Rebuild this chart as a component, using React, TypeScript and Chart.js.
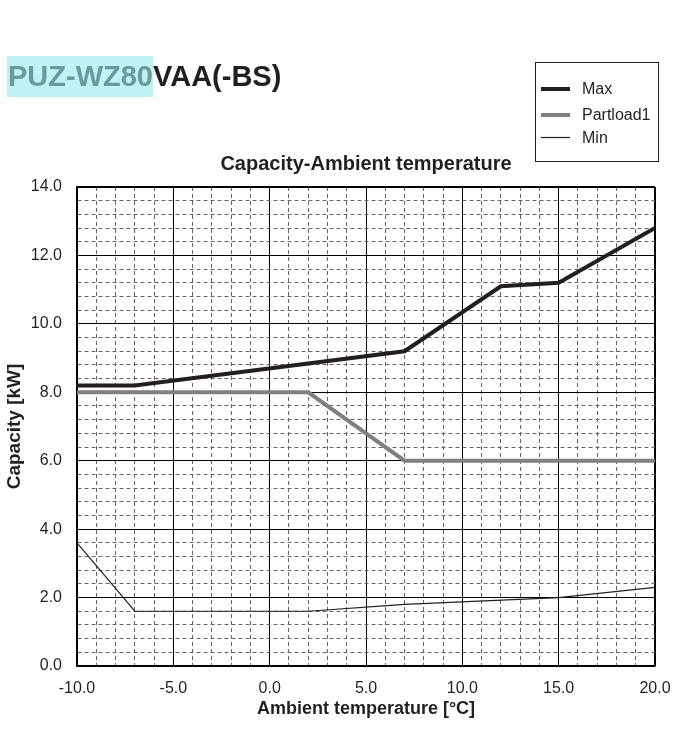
import React, { useEffect, useRef } from "react";
import { Chart, registerables } from "chart.js";

Chart.register(...registerables);

const FONT = "'Liberation Sans', Arial, Helvetica, sans-serif";

const seriesNames = ["Max", "Partload1", "Min"];
const maxTemps = [-10, -7, 7, 12, 15, 20];
const maxValues = [8.2, 8.2, 9.2, 11.1, 11.2, 12.8];
const partTemps = [-10, 2, 7, 20];
const partValues = [8.0, 8.0, 6.0, 6.0];
const minTemps = [-10, -7, 2, 7, 15, 20];
const minValues = [3.6, 1.6, 1.6, 1.8, 2.0, 2.3];

const xMin = -10;
const xMax = 20;
const xMinorStep = 1;
const xMajorStep = 5;
const yMin = 0;
const yMax = 14;
const yMinorStep = 0.4;
const yMajorStep = 2;

const chartTitle = "Capacity-Ambient temperature";
const xTitle = "Ambient temperature [°C]";
const yTitle = "Capacity [kW]";
const modelHighlight = "PUZ-WZ80";
const modelRest = "VAA(-BS)";

const toPts = (xs: number[], ys: number[]) => xs.map((x, i) => ({ x, y: ys[i] }));
const isMajor = (v: number, step: number) => Math.abs(v / step - Math.round(v / step)) < 1e-6;

const legendPlugin = {
  id: "boxLegend",
  afterDraw(chart: any) {
    const ctx = chart.ctx;
    ctx.save();
    ctx.strokeStyle = "#231f20";
    ctx.lineWidth = 1;
    ctx.strokeRect(535.5, 62.5, 123, 99);
    const ys = [89, 115, 137.5];
    chart.data.datasets.forEach((ds: any, i: number) => {
      const y = ys[i];
      ctx.beginPath();
      ctx.strokeStyle = ds.borderColor;
      ctx.lineWidth = ds.borderWidth;
      ctx.moveTo(541, y);
      ctx.lineTo(570, y);
      ctx.stroke();
      ctx.fillStyle = "#231f20";
      ctx.font = `16px ${FONT}`;
      ctx.textBaseline = "middle";
      ctx.textAlign = "left";
      ctx.fillText(ds.label, 582, y + 1);
    });
    ctx.restore();
  },
};

export default function App() {
  const ref = useRef<HTMLCanvasElement>(null);
  useEffect(() => {
    if (!ref.current) return;
    Chart.defaults.font.family = FONT;
    const chart = new Chart(ref.current, {
      type: "line",
      data: {
        datasets: [
          {
            label: seriesNames[0],
            data: toPts(maxTemps, maxValues),
            borderColor: "#231f20",
            borderWidth: 4,
            pointRadius: 0,
            tension: 0,
          },
          {
            label: seriesNames[1],
            data: toPts(partTemps, partValues),
            borderColor: "#808080",
            borderWidth: 4,
            pointRadius: 0,
            tension: 0,
          },
          {
            label: seriesNames[2],
            data: toPts(minTemps, minValues),
            borderColor: "#231f20",
            borderWidth: 1.2,
            pointRadius: 0,
            tension: 0,
          },
        ],
      },
      options: {
        responsive: false,
        animation: false,
        devicePixelRatio: 1,
        layout: { padding: { top: 0, left: 0, right: 26, bottom: 0 } },
        plugins: {
          legend: { display: false },
          tooltip: { enabled: false },
          title: {
            display: true,
            text: chartTitle,
            fullSize: false,
            color: "#231f20",
            font: { size: 20, weight: "bold", family: FONT },
            padding: { top: 152, bottom: 11 },
          },
        },
        scales: {
          x: {
            type: "linear",
            min: xMin,
            max: xMax,
            afterFit: (s: any) => {
              s.height = 64;
              s.paddingLeft = 0;
              s.paddingRight = 0;
            },
            ticks: {
              stepSize: xMinorStep,
              autoSkip: false,
              maxRotation: 0,
              padding: 13,
              color: "#231f20",
              font: { size: 16, family: FONT },
              callback: (v: any) => (isMajor(Number(v), xMajorStep) ? Number(v).toFixed(1) : ""),
            },
            grid: {
              drawTicks: false,
              color: (c: any) => (isMajor(c.tick?.value ?? 0, xMajorStep) ? "#000000" : "#666666"),
              lineWidth: (c: any) => (c.tick && c.tick.value === xMax ? 2 : 1),
            },
            border: {
              display: true,
              color: "#000000",
              width: 1.5,
              dash: (c: any) => (c.type === "tick" && c.tick && !isMajor(c.tick.value, xMajorStep) ? [4, 3] : []),
            },
            title: {
              display: true,
              text: xTitle,
              color: "#231f20",
              font: { size: 18, weight: "bold", family: FONT },
              padding: { top: 0, bottom: 10 },
            },
          },
          y: {
            type: "linear",
            min: yMin,
            max: yMax,
            afterFit: (s: any) => {
              s.width = 77;
              s.paddingTop = 0;
              s.paddingBottom = 0;
            },
            ticks: {
              stepSize: yMinorStep,
              autoSkip: false,
              padding: 15,
              color: "#231f20",
              font: { size: 16, family: FONT },
              callback: (v: any) => (isMajor(Number(v), yMajorStep) ? Number(v).toFixed(1) : ""),
            },
            grid: {
              drawTicks: false,
              color: (c: any) => (isMajor(c.tick?.value ?? 0, yMajorStep) ? "#000000" : "#666666"),
              lineWidth: (c: any) => (c.tick && Math.abs(c.tick.value - yMax) < 1e-6 ? 2 : 1),
            },
            border: {
              display: true,
              color: "#000000",
              width: 1.5,
              dash: (c: any) => (c.type === "tick" && c.tick && !isMajor(c.tick.value, yMajorStep) ? [4, 3] : []),
            },
            title: {
              display: true,
              text: yTitle,
              color: "#231f20",
              font: { size: 19, weight: "bold", family: FONT },
              padding: { top: 3, bottom: 0 },
            },
          },
        },
      },
      plugins: [legendPlugin],
    } as any);
    return () => chart.destroy();
  }, []);

  return (
    <div
      style={{
        position: "fixed",
        left: 0,
        top: 0,
        width: 681,
        height: 730,
        background: "#ffffff",
        fontFamily: FONT,
      }}
    >
      <canvas ref={ref} width={681} height={730} style={{ position: "absolute", left: 0, top: 0, width: 681, height: 730 }} />
      <div
        style={{
          position: "absolute",
          left: 7,
          top: 56,
          height: 41,
          lineHeight: "41px",
          fontSize: 29,
          fontWeight: "bold",
          whiteSpace: "nowrap",
          color: "#231f20",
        }}
      >
        <span style={{ background: "#bff2f2", color: "#6a9a9a", paddingLeft: 1, display: "inline-block", height: 41 }}>
          {modelHighlight}
        </span>
        <span>{modelRest}</span>
      </div>
    </div>
  );
}
